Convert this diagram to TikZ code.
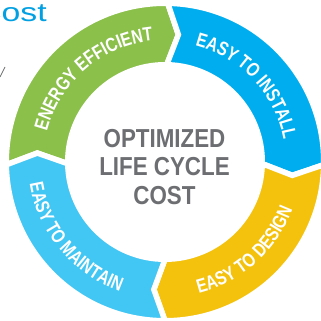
\documentclass[tikz,border=0pt]{standalone}
\usepackage{fontspec}
\usetikzlibrary{decorations.text}
\newfontfamily\arcfont[FakeStretch=0.79]{Liberation Sans}
\newfontfamily\midfont[FakeStretch=0.86]{Liberation Sans}
\newfontfamily\costfont[FakeStretch=1.3]{Liberation Sans}
\definecolor{cgreen}{HTML}{8BC04B}
\definecolor{cblue}{HTML}{00AEEF}
\definecolor{cyellow}{HTML}{F4C20D}
\definecolor{clight}{HTML}{42C6F4}
\definecolor{cgray}{HTML}{6D6E71}
\definecolor{ccost}{HTML}{00A0E3}
\begin{document}
\begin{tikzpicture}[x=1pt,y=1pt,
  seg/.style={fill=#1, draw=white, line width=5.5pt, line join=miter},
  arctext/.style={decorate, decoration={text along path, text align=center, text color=white,
     text={|\arcfont\bfseries\fontsize{19.5}{19.5}\selectfont|#1}}},
  midtext/.style={font=\midfont\bfseries\fontsize{26}{26}\selectfont, text=cgray, inner sep=0pt, anchor=base}]
\useasboundingbox (0,0) rectangle (321,321);
\clip (0,0) rectangle (321,321);
\fill[white] (0,0) rectangle (321,321);
\node[font=\costfont\fontsize{26}{26}\selectfont, text=ccost, anchor=base east, inner sep=0pt] (cost) at (47,299) {Cost};
\draw[cgray, line width=0.8pt] (0,244) -- (5,254);
\begin{scope}[shift={(165,159)}]
  \path[seg=cgreen] (181:158.75) arc[start angle=181, end angle=89, radius=158.75] -- (84:128) -- (89:97.25) arc[start angle=89, end angle=181, radius=97.25] -- (176:128) -- cycle;
  \path[seg=cblue] (89:158.75) arc[start angle=89, end angle=-1, radius=158.75] -- (-6:128) -- (-1:97.25) arc[start angle=-1, end angle=89, radius=97.25] -- (84:128) -- cycle;
  \path[seg=cyellow] (-1:158.75) arc[start angle=-1, end angle=-90, radius=158.75] -- (-95:128) -- (-90:97.25) arc[start angle=-90, end angle=-1, radius=97.25] -- (-6:128) -- cycle;
  \path[seg=clight] (270:158.75) arc[start angle=270, end angle=181, radius=158.75] -- (176:128) -- (181:97.25) arc[start angle=181, end angle=270, radius=97.25] -- (265:128) -- cycle;
  \path[arctext={ENERGY EFFICIENT}] (178:122) arc[start angle=178, end angle=83, radius=122];
  \path[arctext={EASY TO INSTALL}] (90:120.5) arc[start angle=90, end angle=-4, radius=120.5];
  \path[arctext={EASY TO DESIGN}] (-96:136) arc[start angle=-96, end angle=0, radius=136];
  \path[arctext={EASY TO MAINTAIN}] (178:137) arc[start angle=178, end angle=262, radius=137];
  \node[midtext] (l1) at (-0.5,14) {OPTIMIZED};
  \node[midtext] (l2) at (-0.5,-14) {LIFE CYCLE};
  \node[midtext] (l3) at (-0.5,-43) {COST};
\end{scope}
\end{tikzpicture}
\end{document}
